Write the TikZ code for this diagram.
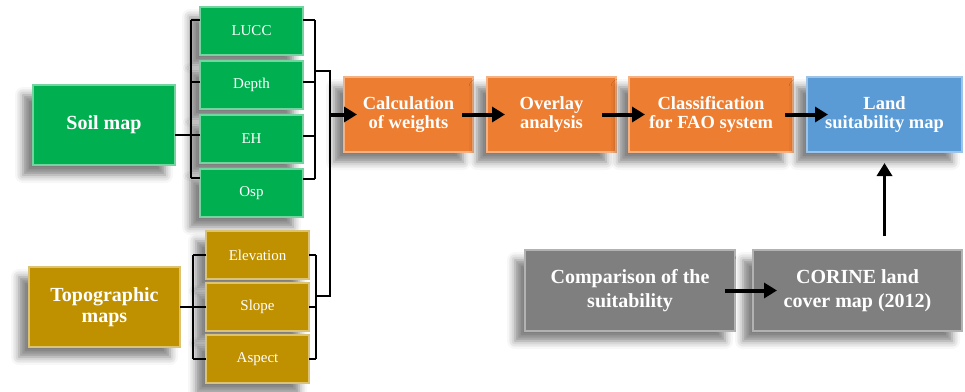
\documentclass[tikz,border=0pt]{standalone}
\usepackage{fontspec}
\setmainfont{Liberation Serif}
\usepackage{xcolor}
\usepackage{tikz}
\usetikzlibrary{arrows.meta,positioning,calc,shadows.blur}

\definecolor{soilgreen}{HTML}{00B050}
\definecolor{topogold}{HTML}{BF9000}
\definecolor{stepsorange}{HTML}{ED7D31}
\definecolor{mapblue}{HTML}{5B9BD5}
\definecolor{checkgray}{HTML}{7F7F7F}

\begin{document}
\begin{tikzpicture}[x=1pt, y=-1pt,
    box/.style={rectangle, inner sep=0pt, outer sep=0pt, line width=1.3pt, text=white, align=center,
        blur shadow={shadow xshift=-10pt, shadow yshift=-10pt, shadow blur radius=8pt, shadow opacity=50}},
    bigfont/.style={font=\fontsize{20}{21}\selectfont\bfseries},
    smallfont/.style={font=\fontsize{15}{18}\selectfont},
    stepfont/.style={font=\fontsize{18.5}{19.5}\selectfont\bfseries},
    soilbox/.style={box, fill=soilgreen, draw=soilgreen!55!white},
    topobox/.style={box, fill=topogold, draw=topogold!55!white},
    stepbox/.style={box, stepfont, fill=stepsorange, draw=stepsorange!60!white, minimum height=75pt},
    layer/.style={minimum width=103pt, minimum height=48pt, smallfont},
    link/.style={black, line width=1.1pt},
    flow/.style={black, line width=4pt, -{Triangle[length=13pt, width=15pt]}}
]
    \useasboundingbox (0,0) rectangle (965,391);

    % Soil map - green (top left)
    \node[soilbox, bigfont, minimum width=142pt, minimum height=80pt] (soil) at (104,125) {Soil map};
    \node[soilbox, layer] (lucc) at (251.5,31) {LUCC};
    \node[soilbox, layer, below=6pt of lucc] (depth) {Depth};
    \node[soilbox, layer, below=6pt of depth] (eh) {EH};
    \node[soilbox, layer, below=6pt of eh] (osp) {Osp};

    % Topographic maps - gold (bottom left)
    \node[topobox, bigfont, minimum width=151pt, minimum height=80pt] (topo) at (104.5,307) {Topographic\\maps};
    \node[topobox, layer] (elev) at (257.5,255) {Elevation};
    \node[topobox, layer, below=4pt of elev] (slope) {Slope};
    \node[topobox, layer, below=4pt of slope] (aspect) {Aspect};

    % Processing steps - orange, result - blue
    \node[stepbox, minimum width=129pt] (calc) at (408.5,114.5) {Calculation\\of weights};
    \node[stepbox, minimum width=129pt, right=14pt of calc] (overlay) {Overlay\\analysis};
    \node[stepbox, minimum width=164pt, right=13pt of overlay] (classif) {Classification\\for FAO system};
    \node[box, stepfont, fill=mapblue, draw=mapblue!60!white, minimum width=155pt, minimum height=75pt,
        right=14pt of classif] (land) {Land\\suitability map};

    % Comparison - gray (bottom right)
    \node[box, font=\fontsize{20}{24}\selectfont\bfseries, fill=checkgray, draw=checkgray!60!white,
        minimum width=210pt, minimum height=81pt] (compar) at (630,290.5) {Comparison of the\\suitability};
    \node[box, font=\fontsize{20}{24}\selectfont\bfseries, fill=checkgray, draw=checkgray!60!white,
        minimum width=209pt, minimum height=81pt, right=18pt of compar] (corine) {CORINE land\\cover map (2012)};

    % Brackets of the soil layers
    \draw[link] (soil.east) ++(0,10) -- ([yshift=4pt]eh.west);
    \draw[link] ([xshift=-9pt, yshift=11pt]lucc.west) -- ([xshift=-9pt, yshift=15pt]osp.west);
    \draw[link] ([xshift=12pt, yshift=11pt]lucc.east) -- ([xshift=12pt, yshift=14pt]osp.east);
    \foreach \b/\dl/\dr in {lucc/11/11, depth/3/3, eh/4/3, osp/15/14} {
        \draw[link] ([yshift=\dl pt]\b.west) -- ++(-9,0);
        \draw[link] ([yshift=\dr pt]\b.east) -- ++(12,0);
    }

    % Brackets of the topographic layers
    \draw[link] (topo.east) -- (slope.west);
    \draw[link] ([xshift=-13pt]elev.west) -- ([xshift=-13pt]aspect.west);
    \draw[link] ([xshift=7pt]elev.east) -- ([xshift=7pt]aspect.east);
    \foreach \b in {elev, slope, aspect} {
        \draw[link] (\b.west) -- ++(-13,0);
        \draw[link] (\b.east) -- ++(7,0);
    }

    % Both groups join into the first step
    \coordinate (soilout) at ([xshift=13pt, yshift=-40pt]lucc.east);
    \coordinate (topoout) at ([xshift=7pt, yshift=11pt]slope.east);
    \coordinate (hub) at ([xshift=-14pt]calc.west);
    \draw[link] (soilout) -| (hub) |- (topoout);

    % Flow arrows
    \draw[flow, shorten >=-13pt] (hub) -- (calc.west);
    \draw[flow, shorten <=-11pt, shorten >=-18pt] (calc) -- (overlay);
    \draw[flow, shorten <=-14pt, shorten >=-16pt] (overlay) -- (classif);
    \draw[flow, shorten <=-8pt, shorten >=-21pt] (classif) -- (land);
    \draw[flow, shorten <=-10pt, shorten >=-24pt] (compar) -- (corine);
    \draw[flow, line width=3.5pt, shorten <=14pt, shorten >=11pt] (land.south |- corine.north) -- (land.south);
\end{tikzpicture}
\end{document}
